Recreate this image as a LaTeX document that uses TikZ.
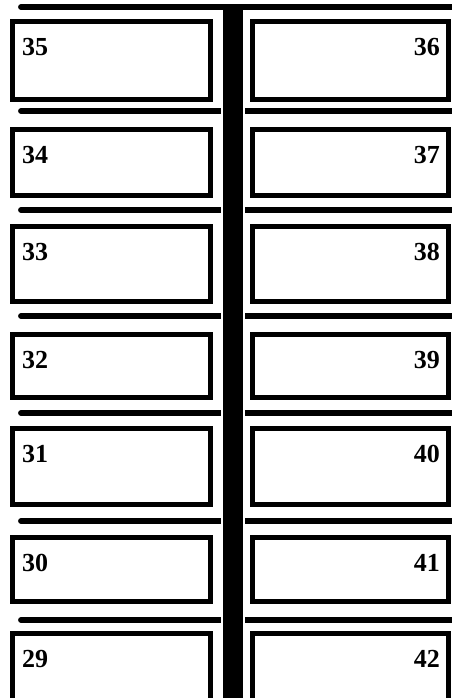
\documentclass[tikz,border=0pt]{standalone}
\usepackage{fontspec}
\setmainfont{Liberation Serif}
\begin{document}
\begin{tikzpicture}[
  x=0.75pt, y=-0.75pt,
  every node/.style={font=\bfseries\fontsize{19.5}{20}\selectfont},
  seatl/.style={draw, line width=4pt, minimum width=148.5pt, inner sep=0pt},
  seatr/.style={draw, line width=4pt, minimum width=147pt, inner sep=0pt},
  rowline/.style={line width=4.4pt, line cap=round},
  numl/.style={anchor=north west, inner sep=0pt, xshift=9pt, yshift=-14.25pt},
  numr/.style={anchor=north east, inner sep=0pt, xshift=-8.25pt, yshift=-14.25pt}
]
\useasboundingbox (0,0) rectangle (451,698);

% row separators
\draw[rowline] (21,7) -- (470,7);
\draw[rowline] (21,111) -- (470,111);
\draw[rowline] (21,210) -- (470,210);
\draw[rowline] (21,316) -- (470,316);
\draw[rowline] (21,413) -- (470,413);
\draw[rowline] (21,521) -- (470,521);
\draw[rowline] (21,620) -- (470,620);

% middle bar with white edge
\fill[white] (221,10) rectangle (245,720);
\fill[black] (223,7) rectangle (243,720);

% left column
\node[seatl, minimum height=58.5pt]  (s35) at (111.5,60.5) [label={[numl]north west:35}] {};
\node[seatl, minimum height=49.5pt]  (s34) at (111.5,162.5) [label={[numl]north west:34}] {};
\node[seatl, minimum height=56.25pt] (s33) at (111.5,264) [label={[numl]north west:33}] {};
\node[seatl, minimum height=47.25pt] (s32) at (111.5,366) [label={[numl]north west:32}] {};
\node[seatl, minimum height=57pt]    (s31) at (111.5,466.5) [label={[numl]north west:31}] {};
\node[seatl, minimum height=48pt]    (s30) at (111.5,569.5) [label={[numl]north west:30}] {};
\node[seatl, minimum height=56.25pt] (s29) at (111.5,671) [label={[numl]north west:29}] {};

% right column
\node[seatr, minimum height=58.5pt]  (s36) at (350.5,60.5) [label={[numr]north east:36}] {};
\node[seatr, minimum height=49.5pt]  (s37) at (350.5,162.5) [label={[numr]north east:37}] {};
\node[seatr, minimum height=56.25pt] (s38) at (350.5,264) [label={[numr]north east:38}] {};
\node[seatr, minimum height=47.25pt] (s39) at (350.5,366) [label={[numr]north east:39}] {};
\node[seatr, minimum height=57pt]    (s40) at (350.5,466.5) [label={[numr]north east:40}] {};
\node[seatr, minimum height=48pt]    (s41) at (350.5,569.5) [label={[numr]north east:41}] {};
\node[seatr, minimum height=56.25pt] (s42) at (350.5,671) [label={[numr]north east:42}] {};

\end{tikzpicture}
\end{document}
